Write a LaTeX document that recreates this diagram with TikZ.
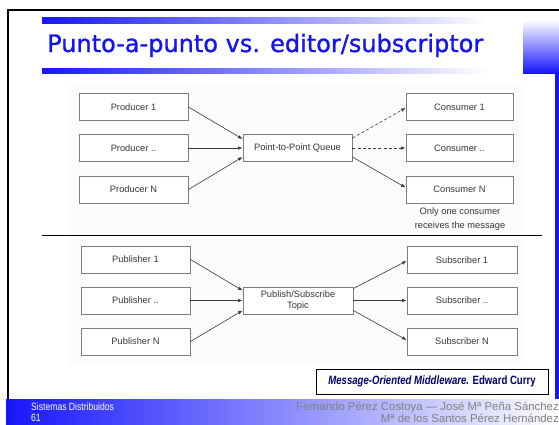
\documentclass[tikz,border=0pt]{standalone}
\usepackage{fontspec}
\setmainfont{Liberation Sans}
\newfontfamily\titlefont[FakeBold=1.0]{DejaVu Sans}
\newfontfamily\narrowfont[FakeStretch=0.82]{Liberation Sans}
\newfontfamily\narrowbold[FakeStretch=0.80]{Liberation Sans Bold}
\newfontfamily\narrowbolditalic[FakeStretch=0.80]{Liberation Sans Bold Italic}
\usetikzlibrary{arrows.meta}
\definecolor{barblue}{RGB}{22,22,252}
\definecolor{titleblue}{RGB}{20,20,240}
\definecolor{navy}{RGB}{0,0,110}
\definecolor{boxline}{RGB}{125,125,125}
\definecolor{boxtext}{RGB}{55,55,55}
\definecolor{footgray}{RGB}{128,128,128}
\begin{document}
\begin{tikzpicture}[x=1pt,y=-1pt,
  box/.style={draw=boxline, line width=0.9pt, fill=white, inner sep=0pt,
    minimum height=27pt, text=boxtext, font=\fontsize{9.3}{11}\selectfont, align=center},
  pbox/.style={box, minimum width=109pt},
  conn/.style={draw=boxtext, line width=0.6pt, -{Latex[length=4.5pt,width=3.5pt]}},
  dconn/.style={conn, dash pattern=on 3pt off 2.2pt},
  foot/.style={inner sep=0pt, font=\narrowfont\fontsize{10.5}{11}\selectfont},
  gfoot/.style={inner sep=0pt, anchor=base east, text=footgray, font=\fontsize{11.4}{12}\selectfont}
]
\useasboundingbox (0,0) rectangle (559,424);
\fill[white] (0,0) rectangle (559,424);

% frame and decorations
\draw[line width=2pt] (8,399) -- (8,10) -- (559,10);
\shade[top color=white, bottom color=barblue] (523,20) rectangle (559,73);
\fill[barblue] (555,73) rectangle (559,399);
\shade[left color=barblue, right color=white] (42,17) rectangle (488,23);
\shade[left color=barblue, right color=white] (42,68) rectangle (488,73);
\node[anchor=base west, inner sep=0pt, text=titleblue,
  font=\titlefont\fontsize{24}{28}\selectfont] (title) at (47,52) {Punto-a-punto vs. editor/subscriptor};

% diagram background
\fill[black!1] (68,84) rectangle (522,366);

% point-to-point
\node[pbox] (p1) at (133.5,107) {Producer 1};
\node[pbox] (p2) at (133.5,148) {Producer ..};
\node[pbox] (p3) at (133.5,189.5) {Producer N};
\node[pbox] (q) at (297.5,148) {Point-to-Point Queue};
\node[box, minimum width=107pt] (c1) at (459.5,107) {Consumer 1};
\node[box, minimum width=107pt] (c2) at (459.5,148) {Consumer ..};
\node[box, minimum width=107pt] (c3) at (459.5,189.5) {Consumer N};
\node[inner sep=0pt, text=boxtext, align=center, font=\fontsize{9.3}{14}\selectfont] (note) at (460,219.5) {Only one consumer\\receives the message};

\draw[conn] (p1.east) -- ([yshift=9pt]q.west);
\draw[conn] (p2.east) -- (q.west);
\draw[conn] (p3.east) -- ([yshift=-9pt]q.west);
\draw[dconn] ([yshift=10pt]q.east) -- ([yshift=-1pt]c1.west);
\draw[dconn] (q.east) -- (c2.west);
\draw[conn] ([yshift=-9pt]q.east) -- ([yshift=2pt]c3.west);

% separator
\draw[line width=0.8pt] (42,235) -- (542,235);

% publish/subscribe
\node[pbox] (s1) at (135.5,259.5) {Publisher 1};
\node[pbox] (s2) at (135.5,300.5) {Publisher ..};
\node[pbox] (s3) at (135.5,341.5) {Publisher N};
\node[box, minimum width=110pt] (t) at (298,300.5) {Publish/Subscribe\\Topic};
\node[box, minimum width=110pt] (b1) at (462,260) {Subscriber 1};
\node[box, minimum width=110pt] (b2) at (462,300.5) {Subscriber ..};
\node[box, minimum width=110pt] (b3) at (462,341.5) {Subscriber N};

\draw[conn] (s1.east) -- ([yshift=10pt]t.west);
\draw[conn] (s2.east) -- (t.west);
\draw[conn] (s3.east) -- ([yshift=-10pt]t.west);
\draw[conn] ([yshift=12pt]t.east) -- ([yshift=-1pt]b1.west);
\draw[conn] (t.east) -- (b2.west);
\draw[conn] ([yshift=-10pt]t.east) -- ([yshift=1.5pt]b3.west);

% citation
\node[draw=black, line width=0.8pt, fill=white, minimum width=232pt, minimum height=25pt,
  inner sep=0pt, text=navy, font=\narrowbold\fontsize{12}{14}\selectfont] (cite) at (432,381.5)
  {{\narrowbolditalic Message-Oriented Middleware.} Edward Curry};

% footer
\shade[left color=barblue, right color=white] (6,399) rectangle (559,424);
\node[foot, anchor=base west, text=white] (f1) at (31,410.5) {Sistemas Distribuidos};
\node[foot, anchor=base west, text=white] (f2) at (31,421.5) {61};
\node[gfoot] (f3) at (559,410.5) {Fernando Pérez Costoya — José Mª Peña Sánchez};
\node[gfoot] (f4) at (559,422.8) {Mª de los Santos Pérez Hernández};
\end{tikzpicture}
\end{document}
